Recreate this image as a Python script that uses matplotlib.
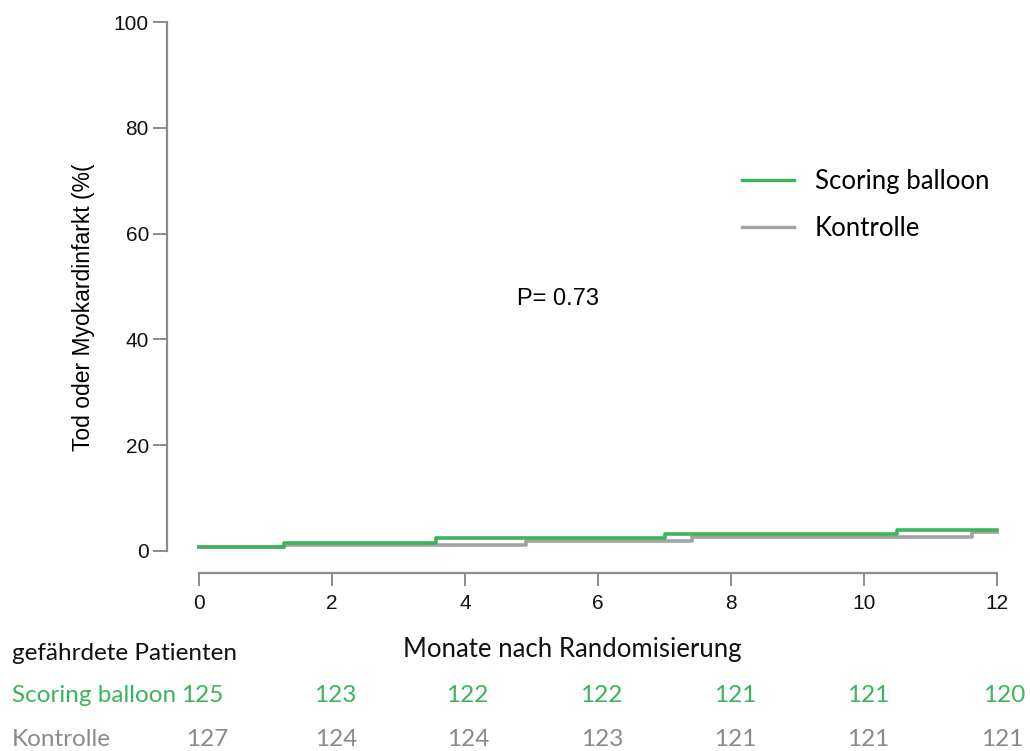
import matplotlib
matplotlib.use("Agg")
import matplotlib.pyplot as plt
import numpy as np

# ---- data ----
months_ticks = [0, 2, 4, 6, 8, 10, 12]
yticks = [0, 20, 40, 60, 80, 100]

green_times = [0.0, 1.28, 3.56, 7.0, 10.5, 12.0]
green_vals = [0.8, 1.6, 2.4, 3.2, 4.0, 4.0]
gray_times = [0.0, 1.28, 4.92, 7.42, 11.62, 12.0]
gray_vals = [0.7, 1.2, 1.9, 2.6, 3.5, 3.5]

risk_green = [125, 123, 122, 122, 121, 121, 120]
risk_gray = [127, 124, 124, 123, 121, 121, 121]

label_green = "Scoring balloon"
label_gray = "Kontrolle"
risk_title = "gefährdete Patienten"
xlabel = "Monate nach Randomisierung"
ylabel = "Tod oder Myokardinfarkt (%("
ptext = "P= 0.73"

GREEN = "#3cb45c"
GRAY = "#a3a3a3"
SPINE = "#8c8c8c"
W, H = 1030, 751

fig = plt.figure(figsize=(W / 100, H / 100), dpi=100)
ax = fig.add_axes([199 / W, 1 - 551 / H, (997 - 199) / W, (551 - 22) / H])
ax.set_xlim(0, 12)
ax.set_ylim(0, 100)

ax.step(gray_times, gray_vals, where="post", color=GRAY, lw=2.6, clip_on=False,
        label=label_gray, zorder=2)
ax.step(green_times, green_vals, where="post", color=GREEN, lw=2.6, clip_on=False,
        label=label_green, zorder=3)

for s in ["top", "right"]:
    ax.spines[s].set_visible(False)
ax.spines["left"].set_position(("outward", 32 * 0.72))
ax.spines["bottom"].set_position(("outward", 22 * 0.72))
for s in ["left", "bottom"]:
    ax.spines[s].set_color(SPINE)
    ax.spines[s].set_linewidth(1.6)
ax.set_xticks(months_ticks)
ax.set_yticks(yticks)
ax.tick_params(axis="both", color=SPINE, width=1.4, length=10, labelsize=15,
               labelcolor="#111111", pad=3, labelfontfamily="Liberation Sans")
ax.tick_params(axis="x", length=9, pad=6)

ax.set_ylabel(ylabel, fontsize=16.5, family="Liberation Sans")
ax.yaxis.set_label_coords((95 - 199) / 798, (551 - 307) / 529)

ax.text(5.4, 47.6, ptext, fontsize=17, family="Liberation Sans", ha="center",
        va="center", transform=ax.transData)

handles, labels = ax.get_legend_handles_labels()
leg = ax.legend(handles[::-1], labels[::-1], loc="upper left",
                bbox_to_anchor=(0.651, 0.765), frameon=False,
                prop={"family": "Lato", "size": 18.5}, handlelength=2.05,
                handletextpad=0.8, labelspacing=0.82)
for h in leg.get_lines():
    h.set_linewidth(2.4)

def fx(px):
    return px / W
def fy(py):
    return 1 - py / H

fig.text(fx(572), fy(649), xlabel, fontsize=18.5, family="Lato", ha="center",
         va="center", color="#111111")
fig.text(fx(12), fy(654), risk_title, fontsize=17.5, family="Lato", ha="left",
         va="center", color="#111111")
fig.text(fx(12), fy(696), label_green, fontsize=17.5, family="Lato", ha="left",
         va="center", color=GREEN)
fig.text(fx(12), fy(739), label_gray, fontsize=17.5, family="Lato", ha="left",
         va="center", color="#8a8a8a")

# pixel offsets of risk numbers relative to their tick
green_off = [3, 3, 2, 3, 4, 4, 7]
gray_off = [8, 4, 3, 4, 4, 4, 5]
px_per_month = (997 - 199) / 12
tr = ax.get_xaxis_transform()
yg = -(696 - 551) / (551 - 22)
yk = -(739 - 551) / (551 - 22)
for m, g, k, og, ok in zip(months_ticks, risk_green, risk_gray, green_off, gray_off):
    ax.text(m + og / px_per_month, yg, str(g), transform=tr,
            fontsize=17.5, family="Lato", ha="center", va="center", color=GREEN,
            clip_on=False)
    ax.text(m + ok / px_per_month, yk, str(k), transform=tr,
            fontsize=17.5, family="Lato", ha="center", va="center",
            color="#8a8a8a", clip_on=False)

fig.savefig("out.png", dpi=100)
